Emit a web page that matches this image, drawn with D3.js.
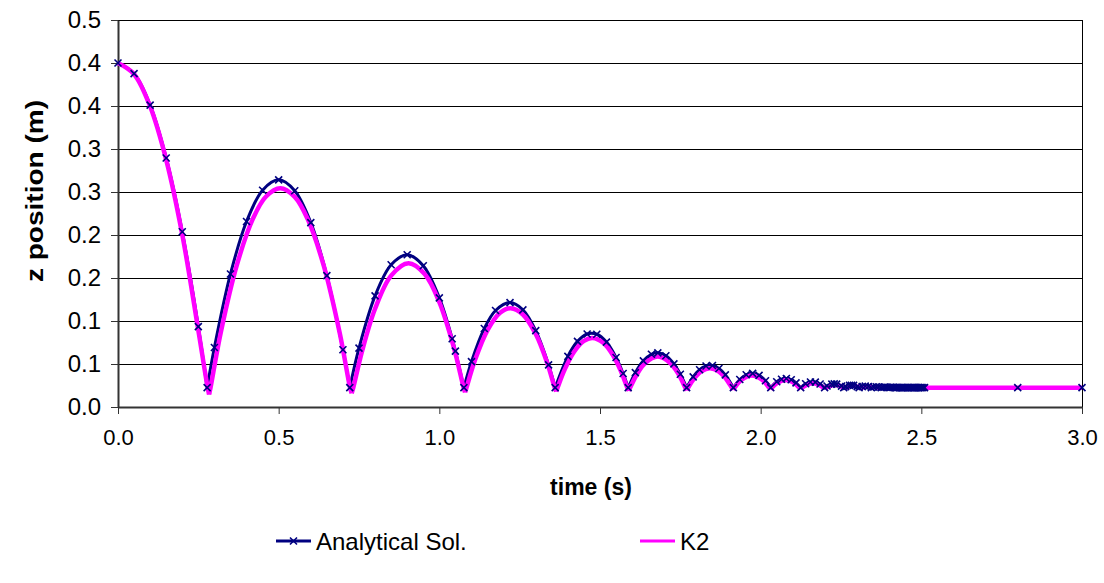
<!DOCTYPE html>
<html>
<head>
<meta charset="utf-8">
<script src="https://cdn.jsdelivr.net/npm/d3@7"></script>
<style>
  html, body { margin: 0; padding: 0; background: #fff; }
  svg { display: block; font-family: "Liberation Sans", Arial, sans-serif; }
</style>
</head>
<body>
<svg id="chart" width="1104" height="583"></svg>
<script>
// ---------- data ----------
const analyticalTime = [
  0, 0.05, 0.1, 0.15, 0.2, 0.25, 0.2774,
  0.3, 0.35, 0.4, 0.45, 0.5, 0.55, 0.6, 0.65, 0.7, 0.7213,
  0.75, 0.8, 0.85, 0.9, 0.95, 1.0, 1.04, 1.05, 1.0764,
  1.1, 1.14, 1.175, 1.22, 1.26, 1.3, 1.34, 1.3605,
  1.4, 1.43, 1.46, 1.49, 1.52, 1.55, 1.572, 1.5878,
  1.61, 1.635, 1.66, 1.68, 1.705, 1.73, 1.75, 1.7696,
  1.79, 1.81, 1.83, 1.85, 1.87, 1.89, 1.915,
  1.935, 1.955, 1.975, 1.995, 2.015, 2.0314,
  2.05, 2.065, 2.08, 2.095, 2.11, 2.1245,
  2.14, 2.155, 2.17, 2.185, 2.199,
  2.2065, 2.2215, 2.229, 2.2365, 2.2515, 2.2586,
  2.2646, 2.2765, 2.2825, 2.289, 2.3005, 2.3063,
  2.3158, 2.3254, 2.335, 2.3444,
  2.352, 2.3597, 2.367, 2.3749,
  2.381, 2.3871, 2.393, 2.3993,
  2.404, 2.409, 2.414, 2.4188, 2.423, 2.427, 2.431, 2.4344, 2.438, 2.441, 2.444, 2.4469, 2.452, 2.4569, 2.461, 2.4649,
  2.469, 2.472, 2.476, 2.479, 2.483, 2.486, 2.49, 2.493, 2.497, 2.5, 2.505, 2.51,
  2.8, 3.0
];
const analyticalZ = [
  0.4, 0.3877, 0.3510, 0.2896, 0.2038, 0.0934, 0.0225,
  0.0692, 0.1547, 0.2157, 0.2521, 0.2641, 0.2515, 0.2144, 0.1527, 0.0666, 0.0225,
  0.0685, 0.1292, 0.1654, 0.1771, 0.1643, 0.1269, 0.0794, 0.0650, 0.0225,
  0.0527, 0.0913, 0.1122, 0.1214, 0.1130, 0.0888, 0.0490, 0.0225,
  0.0589, 0.0763, 0.0849, 0.0846, 0.0755, 0.0576, 0.0389, 0.0225,
  0.0399, 0.0537, 0.0613, 0.0630, 0.0596, 0.0501, 0.0381, 0.0225,
  0.0350, 0.0433, 0.0477, 0.0482, 0.0447, 0.0373, 0.0225,
  0.0320, 0.0375, 0.0391, 0.0368, 0.0305, 0.0225,
  0.0293, 0.0323, 0.0331, 0.0317, 0.0281, 0.0225,
  0.0270, 0.0291, 0.0290, 0.0267, 0.0225,
  0.0244, 0.0266, 0.0269, 0.0266, 0.0243, 0.0225,
  0.0237, 0.0251, 0.0253, 0.0251, 0.0237, 0.0225,
  0.0238, 0.0243, 0.0238, 0.0225,
  0.0233, 0.0236, 0.0233, 0.0225,
  0.0230, 0.0232, 0.0230, 0.0225,
  0.0228, 0.0229, 0.0228, 0.0225, 0.0226, 0.0227, 0.0226, 0.0225, 0.0226, 0.0226, 0.0226, 0.0225, 0.0226, 0.0225, 0.0226, 0.0225,
  0.0225, 0.0225, 0.0225, 0.0225, 0.0225, 0.0225, 0.0225, 0.0225, 0.0225, 0.0225, 0.0225, 0.0225,
  0.0225, 0.0225
];
const k2Time = [
  0, 0.05, 0.1, 0.15, 0.2, 0.25, 0.279, 0.2835,
  0.288, 0.32, 0.37, 0.42, 0.46, 0.505, 0.55, 0.59, 0.64, 0.69, 0.7222, 0.7272,
  0.7322, 0.76, 0.8, 0.85, 0.904, 0.955, 1.0, 1.045, 1.0756, 1.0801,
  1.0846, 1.11, 1.15, 1.19, 1.222, 1.26, 1.3, 1.335, 1.359, 1.3635,
  1.368, 1.39, 1.42, 1.45, 1.4765, 1.51, 1.54, 1.565, 1.5849, 1.5894,
  1.5939, 1.615, 1.64, 1.68, 1.72, 1.745, 1.7655, 1.770,
  1.7745, 1.795, 1.815, 1.842, 1.87, 1.89, 1.9101, 1.9146,
  1.919, 1.94, 1.9726, 2.005, 2.0262, 2.0307,
  2.0352, 2.05, 2.0776, 2.105, 2.1199, 2.1244,
  2.129, 2.1625, 2.196, 2.2,
  2.205, 2.2315, 2.258, 2.262,
  2.267, 2.288, 2.309, 2.313,
  2.317, 2.333, 2.35, 2.354,
  2.358, 2.4, 3.0
];
const k2Z = [
  0.4, 0.3870, 0.3495, 0.2874, 0.2005, 0.0890, 0.0225, 0.0145,
  0.0225, 0.0868, 0.1652, 0.2190, 0.2445, 0.2543, 0.2443, 0.2187, 0.1646, 0.0860, 0.0225, 0.0160,
  0.0225, 0.0655, 0.1142, 0.1528, 0.1671, 0.1543, 0.1218, 0.0694, 0.0225, 0.0170,
  0.0225, 0.0535, 0.0895, 0.1099, 0.1148, 0.1076, 0.0848, 0.0519, 0.0225, 0.0180,
  0.0225, 0.0435, 0.0646, 0.0768, 0.0802, 0.0747, 0.0604, 0.0418, 0.0225, 0.0187,
  0.0225, 0.0381, 0.0509, 0.0586, 0.0506, 0.0377, 0.0225, 0.0193,
  0.0225, 0.0341, 0.0414, 0.0451, 0.0413, 0.0339, 0.0225, 0.0200,
  0.0225, 0.0314, 0.0366, 0.0315, 0.0225, 0.0205,
  0.0225, 0.0276, 0.0313, 0.0276, 0.0225, 0.0210,
  0.0225, 0.0280, 0.0225, 0.0214,
  0.0225, 0.0259, 0.0225, 0.0216,
  0.0225, 0.0247, 0.0225, 0.0218,
  0.0225, 0.0238, 0.0225, 0.0220,
  0.0225, 0.0225, 0.0225
];
const yTickValues = [0, 0.05, 0.1, 0.15, 0.2, 0.25, 0.3, 0.35, 0.4, 0.45];
const yTickLabels = ["0.0", "0.1", "0.1", "0.2", "0.2", "0.3", "0.3", "0.4", "0.4", "0.5"];
const xTickValues = [0, 0.5, 1.0, 1.5, 2.0, 2.5, 3.0];
const xTickLabels = ["0.0", "0.5", "1.0", "1.5", "2.0", "2.5", "3.0"];
const seriesNames = ["Analytical Sol.", "K2"];
const xTitle = "time (s)";
const yTitle = "z position (m)";

// ---------- layout ----------
const W = 1104, H = 583;
const plot = { left: 118, right: 1082, top: 20, bottom: 407 };
const navy = "#000080", magenta = "#FF00FF";
const FONT = "Liberation Sans, Arial, sans-serif";

const svg = d3.select("#chart");
svg.append("rect").attr("width", W).attr("height", H).attr("fill", "#fff");

const x = d3.scaleLinear().domain([0, 3]).range([plot.left, plot.right]);
const y = d3.scaleLinear().domain([0, 0.45]).range([plot.bottom, plot.top]);

// gridlines
svg.append("g").selectAll("line")
  .data(yTickValues.filter(v => v > 0))
  .join("line")
  .attr("x1", plot.left).attr("x2", plot.right)
  .attr("y1", d => Math.round(y(d)) + 0.5).attr("y2", d => Math.round(y(d)) + 0.5)
  .attr("stroke", "#000").attr("stroke-width", 1);

// right border
svg.append("line")
  .attr("x1", plot.right + 0.5).attr("x2", plot.right + 0.5)
  .attr("y1", plot.top).attr("y2", plot.bottom)
  .attr("stroke", "#000").attr("stroke-width", 1);

// y axis
const yAxis = d3.axisLeft(y).tickValues(yTickValues)
  .tickFormat((d, i) => yTickLabels[i]).tickSizeInner(7).tickSizeOuter(0).tickPadding(10);
const gy = svg.append("g").attr("transform", `translate(${plot.left},0)`).call(yAxis);
gy.select(".domain").attr("stroke", "#333").attr("stroke-width", 2);
gy.selectAll(".tick line").attr("stroke", "#333").attr("stroke-width", 1);
gy.selectAll(".tick text").attr("font-size", 24).attr("fill", "#000").attr("font-family", FONT);

// x axis
const xAxis = d3.axisBottom(x).tickValues(xTickValues)
  .tickFormat((d, i) => xTickLabels[i]).tickSizeInner(7).tickSizeOuter(0).tickPadding(15);
const gx = svg.append("g").attr("transform", `translate(0,${plot.bottom})`).call(xAxis);
gx.select(".domain").attr("stroke", "#333").attr("stroke-width", 2);
gx.selectAll(".tick line").attr("stroke", "#333").attr("stroke-width", 1);
gx.selectAll(".tick text").attr("font-size", 22).attr("fill", "#000").attr("font-family", FONT);

// axis titles
svg.append("text").attr("x", 591).attr("y", 495)
  .attr("text-anchor", "middle").attr("font-size", 23).attr("font-weight", "bold").text(xTitle);
svg.append("text").attr("transform", `translate(43,191) rotate(-90) scale(1.22,1)`)
  .attr("text-anchor", "middle").attr("font-size", 23).attr("font-weight", "bold").text(yTitle);

// ---------- series ----------
function toPoints(ts, zs) { return ts.map((t, i) => ({ t, z: zs[i] })); }
// split a bouncing series into arcs at its local minima (impacts)
function splitArcs(pts) {
  const arcs = []; let cur = [pts[0]];
  for (let i = 1; i < pts.length; i++) {
    cur.push(pts[i]);
    const isMin = i < pts.length - 1 && pts[i].z < pts[i - 1].z && pts[i].z <= pts[i + 1].z;
    if (isMin) { arcs.push(cur); cur = [pts[i]]; }
  }
  if (cur.length > 1) arcs.push(cur);
  return arcs;
}
const line = d3.line().x(d => x(d.t)).y(d => y(d.z)).curve(d3.curveCatmullRom.alpha(0.5));

const aPts = toPoints(analyticalTime, analyticalZ);
const kPts = toPoints(k2Time, k2Z);

svg.append("g").selectAll("path").data(splitArcs(aPts)).join("path")
  .attr("d", line).attr("fill", "none").attr("stroke", navy)
  .attr("stroke-width", 3).attr("stroke-linejoin", "round");

svg.append("g").selectAll("path").data(splitArcs(kPts)).join("path")
  .attr("d", line).attr("fill", "none").attr("stroke", magenta)
  .attr("stroke-width", 4.5).attr("stroke-linejoin", "round");

const xMark = "M-3.5,-3.5L3.5,3.5M-3.5,3.5L3.5,-3.5";
svg.append("g").selectAll("path").data(aPts).join("path")
  .attr("transform", d => `translate(${x(d.t)},${y(d.z)})`)
  .attr("d", xMark).attr("fill", "none").attr("stroke", navy).attr("stroke-width", 1.6);

// ---------- legend ----------
const legend = svg.append("g");
const legendItems = [
  { name: seriesNames[0], color: navy, x0: 276, marker: true, width: 3 },
  { name: seriesNames[1], color: magenta, x0: 640, marker: false, width: 3 }
];
const ly = 541;
legendItems.forEach(it => {
  legend.append("line").attr("x1", it.x0).attr("x2", it.x0 + 35)
    .attr("y1", ly).attr("y2", ly).attr("stroke", it.color).attr("stroke-width", it.width);
  if (it.marker) {
    legend.append("path").attr("transform", `translate(${it.x0 + 17.5},${ly})`)
      .attr("d", xMark).attr("fill", "none").attr("stroke", it.color).attr("stroke-width", 1.6);
  }
  legend.append("text").attr("x", it.x0 + 40).attr("y", ly).attr("dy", "0.36em")
    .attr("font-size", 24).attr("fill", "#000").text(it.name);
});
</script>
</body>
</html>
